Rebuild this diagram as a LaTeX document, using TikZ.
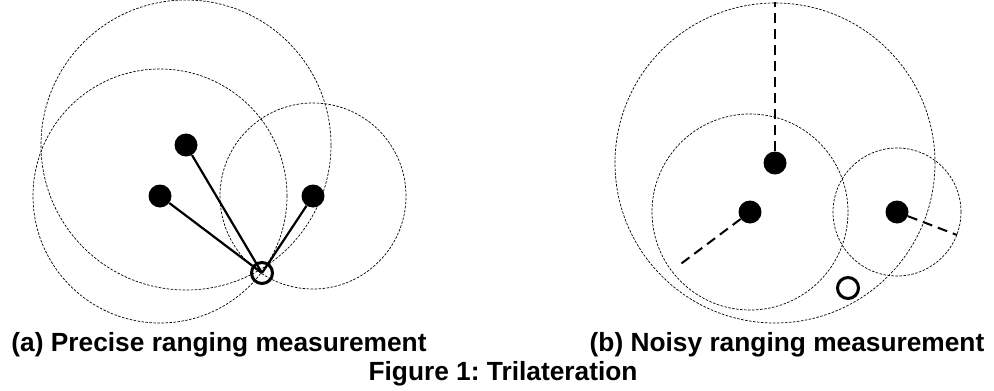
\documentclass[tikz,border=0pt]{standalone}
\usepackage{fontspec}
\setmainfont{Liberation Sans}
\usetikzlibrary{positioning}
\frenchspacing

\begin{document}
\begin{tikzpicture}[
    x=1pt, y=-1pt,
    beacon/.style={circle,fill=black,inner sep=0pt,minimum size=23pt},
    target/.style={circle,draw=black,line width=3pt,inner sep=0pt,minimum size=21pt},
    rangering/.style={dash pattern=on 2.5pt off 1.5pt,line width=0.7pt},
    meas/.style={line width=2.2pt},
    noisy/.style={line width=2pt,dash pattern=on 10pt off 6pt},
    caption/.style={font=\bfseries\fontsize{26.3}{30}\selectfont,anchor=base,inner sep=0pt},
]
\useasboundingbox (0,0) rectangle (994,391);

% === Left: precise ranging ===
\node[beacon] (a1) at (186,145) {};
\node[beacon] (a2) at (160,196) {};
\node[beacon] (a3) at (313,196) {};
\node[target] (t1) at (262,273) {};
\draw[rangering] (a1) circle[radius=145pt];
\draw[rangering] (a2) circle[radius=127pt];
\draw[rangering] (a3) circle[radius=93pt];
\draw[meas] (a1) -- (t1.center);
\draw[meas] (a2) -- (t1.center);
\draw[meas] (a3) -- (t1.center);

% === Right: noisy ranging ===
\node[beacon] (b1) at (775,163) {};
\node[beacon] (b2) at (750,212) {};
\node[beacon] (b3) at (897,212) {};
\node[target] (t2) at (848,288) {};
\draw[rangering] (b1) circle[radius=160pt];
\draw[rangering] (b2) circle[radius=98pt];
\draw[rangering] (b3) circle[radius=64pt];
\coordinate (e1) at (775,2);
\coordinate (e2) at (678,266);
\coordinate (e3) at (957,235);
\draw[noisy] (b1) -- (e1);
\draw[noisy] (b2) -- (e2);
\draw[noisy] (b3) -- (e3);

% === Captions ===
\node[caption] (capa) at (219,351) {(a) Precise ranging measurement};
\node[caption] (capb) at (787,351) {(b) Noisy ranging measurement};
\node[caption] (capfig) at (503,380) {Figure 1: Trilateration};
\end{tikzpicture}
\end{document}
